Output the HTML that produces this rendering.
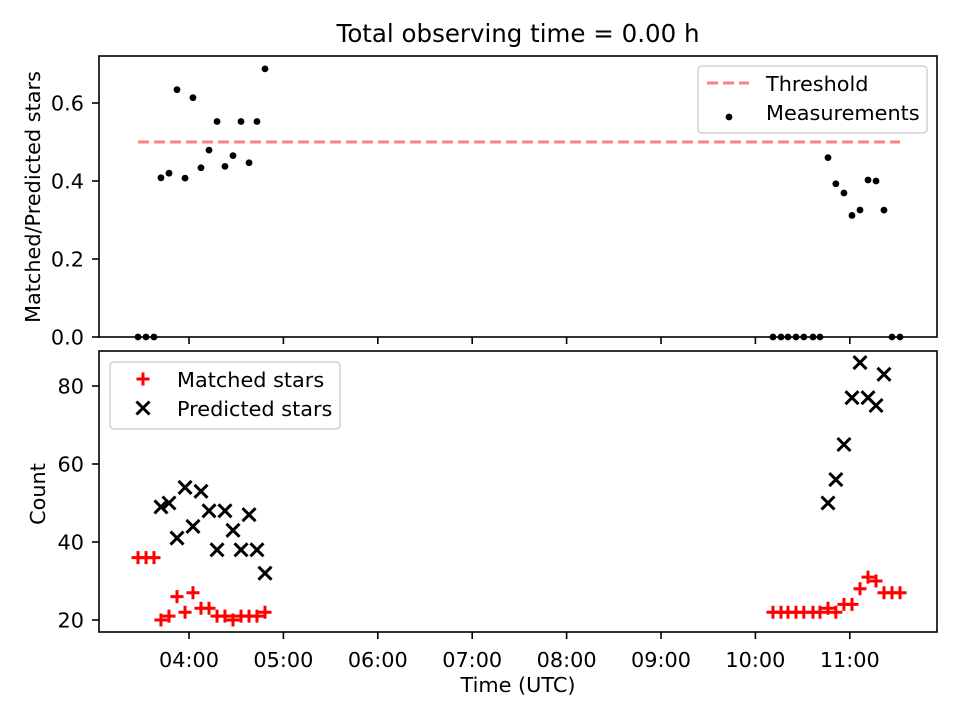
<!DOCTYPE html>
<html><head><meta charset="utf-8"><style>
html,body{margin:0;padding:0;background:#fff}
svg text{font-family:"DejaVu Sans","Liberation Sans",sans-serif;fill:#000}
</style></head><body>
<svg id="chart" width="960" height="720" viewBox="0 0 960 720" xmlns="http://www.w3.org/2000/svg">
<rect width="960" height="720" fill="#fff"/>
<text x="518" y="42" font-size="24.5" text-anchor="middle">Total observing time = 0.00 h</text>
<g id="top"></g><g id="bot"></g>
</svg>
<script>
// Data
const timesA = [3.460,3.545,3.629,3.703,3.788,3.873,3.958,4.042,4.127,4.212,4.297,4.381,4.466,4.551,4.636,4.720,4.805];
const matchedA = [36,36,36,20,21,26,22,27,23,23,21,21,20,21,21,21,22];
const predictedA = [null,null,null,49,50,41,54,44,53,48,38,48,43,38,47,38,32];
const timesB = [10.186,10.271,10.345,10.430,10.513,10.610,10.684,10.769,10.852,10.938,11.023,11.108,11.193,11.278,11.362,11.447,11.532];
const matchedB = [22,22,22,22,22,22,22,23,22,24,24,28,31,30,27,27,27];
const predictedB = [null,null,null,null,null,null,null,50,56,65,77,86,77,75,83,null,null];
const threshold = 0.5;
const xTickLabels = ["04:00","05:00","06:00","07:00","08:00","09:00","10:00","11:00"];
const xTickHours = [4,5,6,7,8,9,10,11];
const topYTicks = [0.0,0.2,0.4,0.6];
const botYTicks = [20,40,60,80];

const times = timesA.concat(timesB);
const matched = matchedA.concat(matchedB);
const predicted = predictedA.concat(predictedB);
const ratio = matched.map((m,i)=> predicted[i] ? m/predicted[i] : 0);

const NS="http://www.w3.org/2000/svg";
const L=99,R=937;
const T1=56,B1=337,T2=351,B2=632;
const x = h => 189 + (h-4)*94.4;
const yTop = v => 337 - v*390;
const yBot = c => 620 - (c-20)*3.9;
function mk(tag, attrs, parent){const e=document.createElementNS(NS,tag);for(const k in attrs)e.setAttribute(k,attrs[k]);parent.appendChild(e);return e;}
const gT=document.getElementById('top'), gB=document.getElementById('bot');

function axesFrame(g, top, bot, name){
  const r=mk('rect',{x:L,y:top,width:R-L,height:bot-top,fill:'none',stroke:'#000','stroke-width':1.6},g);
  
  
  xTickHours.forEach((h,i)=>{
    const t=mk('line',{x1:x(h),x2:x(h),y1:bot,y2:bot+7,stroke:'#000','stroke-width':1.6},g);
    
    
  });
}
axesFrame(gT,T1,B1,'top-axes');
axesFrame(gB,T2,B2,'bottom-axes');

// x tick labels
xTickHours.forEach((h,i)=>{
  const t=mk('text',{x:x(h),y:B2+35,'font-size':20.8,'text-anchor':'middle'},gB);
  t.textContent=xTickLabels[i];
  
  
});
// y ticks top
topYTicks.forEach(v=>{
  const yy=yTop(v);
  const l=mk('line',{x1:L-7,x2:L,y1:yy,y2:yy,stroke:'#000','stroke-width':1.6},gT);
  
  
  const t=mk('text',{x:84,y:yy+7.5,'font-size':20.8,'text-anchor':'end'},gT);
  t.textContent=v.toFixed(1);
  
  
});
botYTicks.forEach(v=>{
  const yy=yBot(v);
  const l=mk('line',{x1:L-7,x2:L,y1:yy,y2:yy,stroke:'#000','stroke-width':1.6},gB);
  
  
  const t=mk('text',{x:84,y:yy+7.5,'font-size':20.8,'text-anchor':'end'},gB);
  t.textContent=String(v);
  
  
});
// axis titles
let t=mk('text',{x:0,y:0,'font-size':20.8,'text-anchor':'middle',transform:'translate(40,197) rotate(-90)'},gT);
t.textContent='Matched/Predicted stars';


t=mk('text',{x:0,y:0,'font-size':20.8,'text-anchor':'middle',transform:'translate(45,494) rotate(-90)'},gB);
t.textContent='Count';


t=mk('text',{x:518,y:692,'font-size':20.8,'text-anchor':'middle'},gB);
t.textContent='Time (UTC)';



// threshold line
const th=mk('line',{x1:x(times[0]),x2:x(times[times.length-1]),y1:yTop(threshold),y2:yTop(threshold),stroke:'#ff7f7f','stroke-width':3,'stroke-dasharray':'11 5'},gT);


// measurements
ratio.forEach((r,i)=>{
  const c=mk('circle',{cx:x(times[i]),cy:yTop(r),r:3.4,fill:'#000'},gT);
  
  
});
function plus(g,cx,cy,col,s){
  const p=mk('path',{d:`M${cx-s},${cy}H${cx+s}M${cx},${cy-s}V${cy+s}`,stroke:col,'stroke-width':3,fill:'none'},g);
  return p;
}
function cross(g,cx,cy,col,s){
  return mk('path',{d:`M${cx-s},${cy-s}L${cx+s},${cy+s}M${cx-s},${cy+s}L${cx+s},${cy-s}`,stroke:col,'stroke-width':3,fill:'none'},g);
}
matched.forEach((m,i)=>{
  const p=plus(gB,x(times[i]),yBot(m),'#ff0000',6.5);
  
  
});
predicted.forEach((v,i)=>{
  if(v==null) return;
  const p=cross(gB,x(times[i]),yBot(v),'#000',6.5);
  
  
});

// legends
let lg=mk('g',{},gT);


mk('rect',{x:698,y:66,width:229,height:67,rx:4,fill:'#fff',stroke:'#d0d0d0','stroke-width':1.5},lg);
mk('line',{x1:707,x2:749,y1:83,y2:83,stroke:'#ff7f7f','stroke-width':3,'stroke-dasharray':'11 5'},lg);
t=mk('text',{x:766,y:91,'font-size':20.8},lg);t.textContent='Threshold';


mk('circle',{cx:729,cy:117,r:3.4,fill:'#000'},lg);
t=mk('text',{x:766,y:120,'font-size':20.8},lg);t.textContent='Measurements';



lg=mk('g',{},gB);


mk('rect',{x:110,y:362,width:230,height:67,rx:4,fill:'#fff',stroke:'#d0d0d0','stroke-width':1.5},lg);
plus(lg,143,379,'#ff0000',6.5);
t=mk('text',{x:177,y:387,'font-size':20.8},lg);t.textContent='Matched stars';


cross(lg,143,408,'#000',6.5);
t=mk('text',{x:177,y:416,'font-size':20.8},lg);t.textContent='Predicted stars';


</script>
</body></html>
